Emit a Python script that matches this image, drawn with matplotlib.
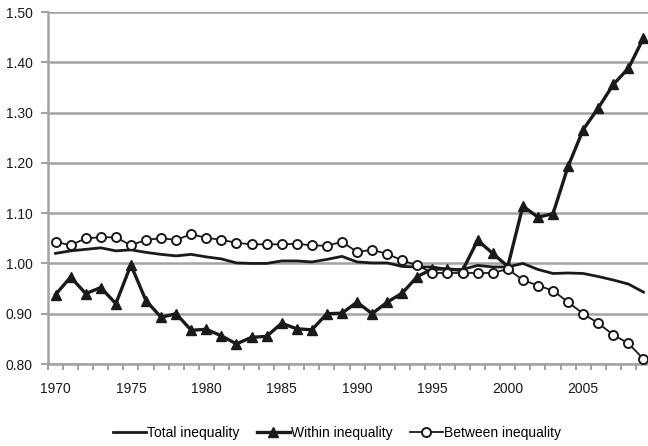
import numpy as np
import matplotlib
matplotlib.use("Agg")
import matplotlib.pyplot as plt

years = list(range(1970, 2010))

total = [1.020, 1.025, 1.028, 1.031, 1.025, 1.027, 1.022, 1.018, 1.015, 1.018,
         1.013, 1.009, 1.001, 1.000, 1.000, 1.005, 1.005, 1.003, 1.008, 1.014,
         1.003, 1.001, 1.001, 0.994, 0.993, 0.993, 0.988, 0.988, 0.996, 0.993,
         0.993, 1.000, 0.988, 0.980, 0.981, 0.980, 0.974, 0.967, 0.959, 0.943]

within = [0.938, 0.973, 0.940, 0.952, 0.920, 0.997, 0.926, 0.893, 0.900, 0.867,
          0.869, 0.856, 0.840, 0.853, 0.855, 0.881, 0.870, 0.868, 0.900, 0.901,
          0.923, 0.900, 0.923, 0.941, 0.974, 0.989, 0.989, 0.986, 1.046, 1.020,
          0.994, 1.114, 1.092, 1.099, 1.193, 1.266, 1.309, 1.356, 1.388, 1.448]

between = [1.043, 1.036, 1.050, 1.052, 1.052, 1.036, 1.047, 1.050, 1.047, 1.058,
           1.051, 1.047, 1.041, 1.038, 1.038, 1.038, 1.039, 1.036, 1.035, 1.043,
           1.023, 1.027, 1.019, 1.006, 0.996, 0.981, 0.981, 0.981, 0.981, 0.981,
           0.989, 0.967, 0.956, 0.946, 0.923, 0.900, 0.881, 0.858, 0.841, 0.810]

xlabels = [str(y) if y % 5 == 0 else "" for y in years]

plt.rcParams['font.family'] = ['Liberation Sans', 'DejaVu Sans']
ink = '#1a1a1a'
gridc = '#a3a3a3'
fs = 10

fig = plt.figure(figsize=(6.48, 4.46), dpi=100)
ax = fig.add_axes([48/648, (446-364)/446, 603/648, 352/446])

x = np.arange(len(years))
ax.plot(x, total, color=ink, lw=2.0, label='Total inequality', zorder=3)
ax.plot(x, within, color=ink, lw=2.4, marker='^', ms=7.5, label='Within inequality', zorder=4)
ax.plot(x, between, color=ink, lw=1.3, marker='o', ms=6.5, mfc='white', mec=ink, mew=1.4,
        label='Between inequality', zorder=5)

ax.set_ylim(0.80, 1.50)
ax.set_xlim(-0.5, len(years) - 0.5)
ax.set_yticks(np.arange(0.80, 1.501, 0.10))
ax.set_yticklabels(['%.2f' % v for v in np.arange(0.80, 1.501, 0.10)])
ax.yaxis.grid(True, color=gridc, lw=1.8)
ax.set_axisbelow(True)

ax.set_xticks(x)
ax.set_xticklabels(xlabels)
ax.set_xticks(np.arange(-0.5, len(years), 1.0), minor=True)
ax.tick_params(axis='x', which='major', length=0, pad=13, labelsize=fs, colors=ink)
ax.tick_params(axis='x', which='minor', length=4, width=1.5, color=gridc, direction='out')
ax.tick_params(axis='y', length=5, width=1.5, color=gridc, labelsize=fs, labelcolor=ink, pad=6)

for s in ['top', 'right']:
    ax.spines[s].set_visible(False)
for s in ['left', 'bottom']:
    ax.spines[s].set_color(gridc)
    ax.spines[s].set_linewidth(1.8)

fig.legend(loc='center', bbox_to_anchor=(337/648, 1 - 433/446), ncol=3, frameon=False,
           fontsize=fs, handlelength=2.4, handletextpad=0.1, columnspacing=1.2)

fig.savefig('out.png', dpi=100)
